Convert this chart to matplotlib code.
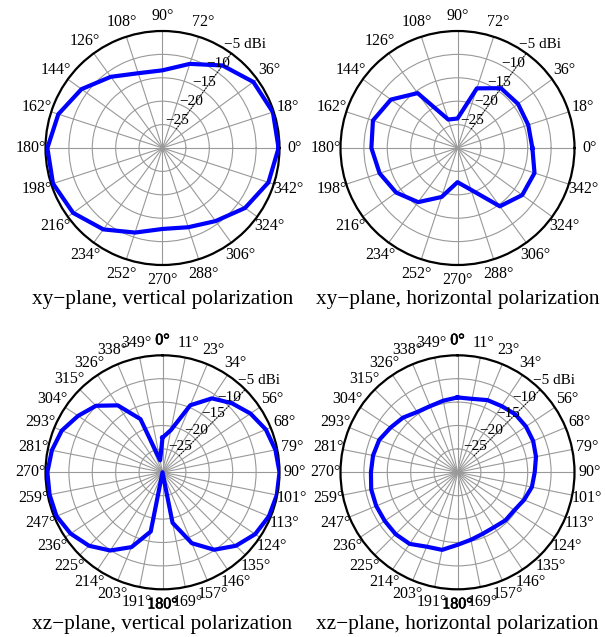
import numpy as np
import matplotlib
matplotlib.use("Agg")
import matplotlib.pyplot as plt
import matplotlib.patheffects as pe

plt.rcParams['font.family'] = ['Liberation Serif', 'DejaVu Serif']

# gain in dBi
xy_angles = list(range(0, 360, 18))
xy_vert = [-5.2, -5.2, -6.0, -8.2, -11.1, -13.4, -13.2, -11.2, -8.6, -6.6,
           -5.4, -5.4, -6.4, -8.5, -11.0, -12.7, -12.2, -10.7, -8.2, -6.2]
xy_horiz = [-14.0, -14.1, -14.0, -14.2, -16.6, -23.7, -23.6, -15.5, -12.4, -11.0,
            -11.6, -12.5, -13.8, -15.7, -19.0, -22.7, -20.6, -14.6, -12.9, -12.7]
xy_labels = ['0°', '18°', '36°', '', '72°', '90°', '108°', '126°', '144°', '162°',
             '180°', '198°', '216°', '234°', '252°', '270°', '288°', '306°', '324°', '342°']

xz_angles = [i * 11.25 for i in range(32)]
xz_vert = [-22.6, -20.8, -14.5, -11.0, -9.1, -7.4, -6.1, -5.4, -5.0, -5.1, -5.4,
           -6.2, -7.8, -10.1, -13.6, -19.0, -30.0, -17.1, -12.7, -9.9, -7.8, -6.4,
           -5.5, -5.4, -5.4, -5.9, -6.7, -8.3, -9.9, -12.8, -17.7, -27.4]
xz_horiz = [-14.0, -14.0, -13.3, -13.0, -12.5, -12.4, -12.5, -12.9, -13.5, -13.8, -14.6,
            -15.4, -15.5, -15.9, -15.8, -15.3, -14.5, -13.1, -12.8, -11.6, -11.3, -11.3,
            -11.2, -11.2, -11.5, -11.6, -11.9, -12.8, -13.5, -14.5, -14.7, -14.4]
xz_labels = ['0°', '11°', '23°', '34°', '', '56°', '68°', '79°', '90°', '101°', '113°',
             '124°', '135°', '146°', '157°', '169°', '180°', '191°', '203°', '214°', '225°',
             '236°', '247°', '259°', '270°', '281°', '293°', '304°', '315°', '326°', '338°', '349°']

levels = [-25, -20, -15, -10]
rmin, rmax = -30, -5

titles = ['xy−plane, vertical polarization', 'xy−plane, horizontal polarization',
          'xz−plane, vertical polarization', 'xz−plane, horizontal polarization']

W, H = 605, 637
fig = plt.figure(figsize=(W / 100, H / 100), dpi=100)
R = 117


def polar_plot(cx, cy, angles, vals, labels, rad_angle, xz, title, ty):
    ax = fig.add_axes([(cx - R) / W, (H - cy - R) / H, 2 * R / W, 2 * R / H],
                      projection='polar')
    if xz:
        ax.set_theta_zero_location('N')
        ax.set_theta_direction(-1)
    th = np.radians(angles + [360])
    v = np.clip(vals + vals[:1], rmin, rmax)
    ax.plot(th, v, color='#0000ff', lw=3, zorder=5)
    ax.set_ylim(rmin, rmax)
    ax.set_xticks(np.radians(angles))
    ax.set_xticklabels([])
    ax.set_yticks(levels)
    ax.set_yticklabels([])
    ax.tick_params(length=0)
    ax.grid(True, color='#999999', lw=0.8)
    ax.spines['polar'].set_linewidth(1.6)
    ax.spines['polar'].set_color('black')

    r_lab = rmin + 132 / R * (rmax - rmin)
    for a, lab in zip(angles, labels):
        if not lab:
            continue
        t = ax.text(np.radians(a), r_lab, lab, ha='center', va='center', fontsize=11.5,
                    clip_on=False)
        if xz and lab in ('0°', '180°'):
            # a little heavier in the original
            t.set_path_effects([pe.withStroke(linewidth=0.5, foreground='black')])

    ra = np.radians(rad_angle)
    ax.plot([ra, ra], [-25, rmax], color='black', lw=0.8, ls=(0, (1, 1.5)), zorder=4)
    for lvl in levels:
        ax.annotate('−%d' % -lvl, xy=(ra, lvl), xytext=(0.5, 6.5),
                    textcoords='offset points', ha='center', va='center',
                    fontsize=11, zorder=6, annotation_clip=False)
    ax.annotate('−5 dBi', xy=(ra, rmax), xytext=(-5.5, 6.5),
                textcoords='offset points', ha='left', va='center',
                fontsize=11, zorder=6, annotation_clip=False)

    fig.text(cx / W, 1 - ty / H, title, ha='center', va='center', fontsize=15.3)


polar_plot(162.5, 148, xy_angles, xy_vert, xy_labels, 54, False, titles[0], 299)
polar_plot(457.5, 148, xy_angles, xy_horiz, xy_labels, 54, False, titles[1], 299)
polar_plot(162.5, 472.3, xz_angles, xz_vert, xz_labels, 45, True, titles[2], 624)
polar_plot(457.5, 472.3, xz_angles, xz_horiz, xz_labels, 45, True, titles[3], 624)

fig.savefig('out.png', dpi=100)
